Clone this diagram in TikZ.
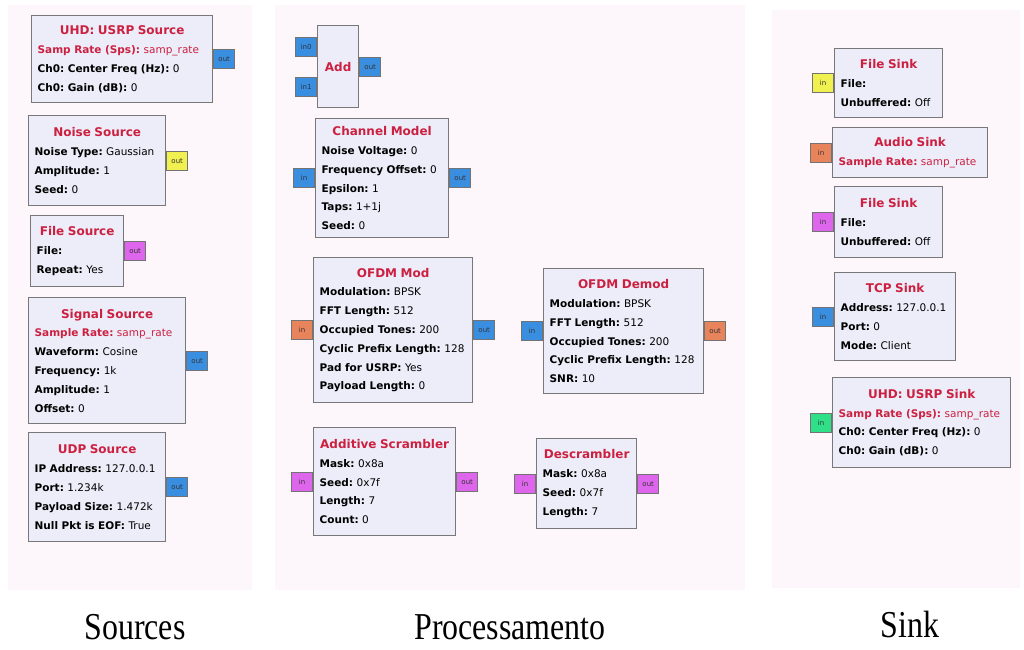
\documentclass[tikz,border=0pt]{standalone}
\usepackage{fontspec}
\usepackage{graphicx}
\usepackage{tikz}
\usetikzlibrary{positioning}
\newfontfamily\blkfamily{DejaVu Sans}
\newfontfamily\lblfamily{Liberation Serif}
\definecolor{grcfill}{HTML}{EDEDF9}
\definecolor{grcline}{HTML}{787878}
\definecolor{grcred}{HTML}{CC2040}
\definecolor{grcblue}{HTML}{3A8EE0}
\definecolor{grcyellow}{HTML}{F0F050}
\definecolor{grcmagenta}{HTML}{DE66EC}
\definecolor{grcorange}{HTML}{E8845C}
\definecolor{grcgreen}{HTML}{30E088}
\definecolor{panelbg}{HTML}{FDF6FB}
\setlength{\parindent}{0pt}
\frenchspacing
\newcommand{\blktitle}[1]{{\centering\color{grcred}\bfseries\fontsize{12}{18.8}\selectfont #1\par}}
\newcommand{\blkparam}[2]{\mbox{\textbf{#1:} #2}}
\newcommand{\redparam}[2]{\mbox{\color{grcred}\textbf{#1:} #2}}

\begin{document}
\begin{tikzpicture}[x=1pt, y=-1pt,
    blk/.style={draw=grcline, fill=grcfill, line width=1.3pt, anchor=north west, inner xsep=6pt, inner ysep=0pt, align=left, font=\blkfamily\fontsize{10.5}{18.8}\selectfont},
    port/.style={draw=black!55, line width=0.8pt, minimum width=21pt, minimum height=19pt, inner sep=0pt, font=\blkfamily\fontsize{7}{8}\selectfont, text=black!80},
    outport/.style={port, anchor=west},
    inport/.style={port, anchor=east},
    lbl/.style={anchor=base, font=\lblfamily\fontsize{38}{42}\selectfont}]
  \useasboundingbox (0,0) rectangle (1024,649);
  \fill[panelbg] (8,5) rectangle (252,590);
  \fill[panelbg] (275,5) rectangle (745,590);
  \fill[panelbg] (772,10) rectangle (1020,588);
  % sources
  \node[blk, text width=169pt, minimum height=87pt] (usrpsrc) at (31,15) {\blktitle{UHD: USRP Source}\redparam{Samp Rate (Sps)}{samp\_rate}\\ \blkparam{Ch0: Center Freq (Hz)}{0}\\ \blkparam{Ch0: Gain (dB)}{0}};
  \node[outport, fill=grcblue] (usrpsrc-out) at (usrpsrc.east) {out};
  \node[blk, text width=125pt, minimum height=90pt] (noisesrc) at (28,115) {\blktitle{Noise Source}\blkparam{Noise Type}{Gaussian}\\ \blkparam{Amplitude}{1}\\ \blkparam{Seed}{0}};
  \node[outport, fill=grcyellow] (noisesrc-out) at (noisesrc.east) {out};
  \node[blk, text width=81pt, minimum height=71pt] (filesrc) at (30,215) {\blktitle{File Source}\blkparam{File}{}\\ \blkparam{Repeat}{Yes}};
  \node[outport, fill=grcmagenta] (filesrc-out) at (filesrc.east) {out};
  \node[blk, text width=145pt, minimum height=126pt] (sigsrc) at (28,297) {\blktitle{Signal Source}\redparam{Sample Rate}{samp\_rate}\\ \blkparam{Waveform}{Cosine}\\ \blkparam{Frequency}{1k}\\ \blkparam{Amplitude}{1}\\ \blkparam{Offset}{0}};
  \node[outport, fill=grcblue] (sigsrc-out) at (sigsrc.east) {out};
  \node[blk, text width=125pt, minimum height=109pt] (udpsrc) at (28,432) {\blktitle{UDP Source}\blkparam{IP Address}{127.0.0.1}\\ \blkparam{Port}{1.234k}\\ \blkparam{Payload Size}{1.472k}\\ \blkparam{Null Pkt is EOF}{True}};
  \node[outport, fill=grcblue] (udpsrc-out) at (udpsrc.east) {out};
  % processamento
  \node[blk, text width=29pt, minimum height=82pt] (add) at (317,25) {\blktitle{Add}};
  \node[inport, fill=grcblue] (add-in0) at ([yshift=20pt]add.west) {in0};
  \node[inport, fill=grcblue] (add-in1) at ([yshift=-20pt]add.west) {in1};
  \node[outport, fill=grcblue] (add-out) at (add.east) {out};
  \node[blk, text width=121pt, minimum height=119pt] (chanmodel) at (315,118) {\blktitle{Channel Model}\blkparam{Noise Voltage}{0}\\ \blkparam{Frequency Offset}{0}\\ \blkparam{Epsilon}{1}\\ \blkparam{Taps}{1+1j}\\ \blkparam{Seed}{0}};
  \node[inport, fill=grcblue] (chanmodel-in) at (chanmodel.west) {in};
  \node[outport, fill=grcblue] (chanmodel-out) at (chanmodel.east) {out};
  \node[blk, text width=147pt, minimum height=145pt] (ofdmmod) at (313,257) {\blktitle{OFDM Mod}\blkparam{Modulation}{BPSK}\\ \blkparam{FFT Length}{512}\\ \blkparam{Occupied Tones}{200}\\ \blkparam{Cyclic Prefix Length}{128}\\ \blkparam{Pad for USRP}{Yes}\\ \blkparam{Payload Length}{0}};
  \node[inport, fill=grcorange] (ofdmmod-in) at (ofdmmod.west) {in};
  \node[outport, fill=grcblue] (ofdmmod-out) at (ofdmmod.east) {out};
  \node[blk, text width=148pt, minimum height=125pt] (ofdmdemod) at (543,268) {\blktitle{OFDM Demod}\blkparam{Modulation}{BPSK}\\ \blkparam{FFT Length}{512}\\ \blkparam{Occupied Tones}{200}\\ \blkparam{Cyclic Prefix Length}{128}\\ \blkparam{SNR}{10}};
  \node[inport, fill=grcblue] (ofdmdemod-in) at (ofdmdemod.west) {in};
  \node[outport, fill=grcorange] (ofdmdemod-out) at (ofdmdemod.east) {out};
  \node[blk, text width=130pt, minimum height=108pt] (scrambler) at (313,427) {\blktitle{Additive Scrambler}\blkparam{Mask}{0x8a}\\ \blkparam{Seed}{0x7f}\\ \blkparam{Length}{7}\\ \blkparam{Count}{0}};
  \node[inport, fill=grcmagenta] (scrambler-in) at (scrambler.west) {in};
  \node[outport, fill=grcmagenta] (scrambler-out) at (scrambler.east) {out};
  \node[blk, text width=88pt, minimum height=90pt] (descrambler) at (536,438) {\blktitle{Descrambler}\blkparam{Mask}{0x8a}\\ \blkparam{Seed}{0x7f}\\ \blkparam{Length}{7}};
  \node[inport, fill=grcmagenta] (descrambler-in) at (descrambler.west) {in};
  \node[outport, fill=grcmagenta] (descrambler-out) at (descrambler.east) {out};
  % sink
  \node[blk, text width=96pt, minimum height=69pt] (filesinka) at (834,48) {\blktitle{File Sink}\blkparam{File}{}\\ \blkparam{Unbuffered}{Off}};
  \node[inport, fill=grcyellow] (filesinka-in) at (filesinka.west) {in};
  \node[blk, text width=143pt, minimum height=50pt] (audiosink) at (832,127) {\blktitle{Audio Sink}\redparam{Sample Rate}{samp\_rate}};
  \node[inport, fill=grcorange] (audiosink-in) at (audiosink.west) {in};
  \node[blk, text width=96pt, minimum height=71pt] (filesinkb) at (834,186) {\blktitle{File Sink}\blkparam{File}{}\\ \blkparam{Unbuffered}{Off}};
  \node[inport, fill=grcmagenta] (filesinkb-in) at (filesinkb.west) {in};
  \node[blk, text width=109pt, minimum height=88pt] (tcpsink) at (834,272) {\blktitle{TCP Sink}\blkparam{Address}{127.0.0.1}\\ \blkparam{Port}{0}\\ \blkparam{Mode}{Client}};
  \node[inport, fill=grcblue] (tcpsink-in) at (tcpsink.west) {in};
  \node[blk, text width=166pt, minimum height=90pt] (usrpsink) at (832,377) {\blktitle{UHD: USRP Sink}\redparam{Samp Rate (Sps)}{samp\_rate}\\ \blkparam{Ch0: Center Freq (Hz)}{0}\\ \blkparam{Ch0: Gain (dB)}{0}};
  \node[inport, fill=grcgreen] (usrpsink-in) at (usrpsink.west) {in};
  % column labels
  \node[lbl] (srclbl) at (135,639) {\scalebox{0.84}[1]{Sources}};
  \node[lbl] (proclbl) at (510,639) {\scalebox{0.84}[1]{Processamento}};
  \node[lbl] (sinklbl) at (910,637) {\scalebox{0.84}[1]{Sink}};
\end{tikzpicture}
\end{document}
